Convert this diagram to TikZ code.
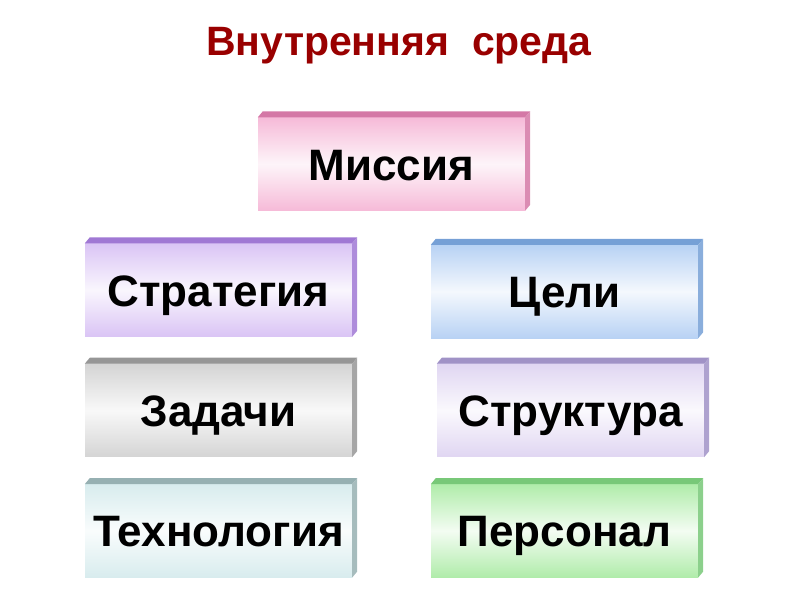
\documentclass[tikz,border=0pt]{standalone}
\usepackage{fontspec}
\setmainfont{Liberation Sans}
\usepackage{tikz}
\usetikzlibrary{positioning}
\definecolor{titleRed}{RGB}{153, 0, 0}
\definecolor{pinkFace}{RGB}{246, 186, 216}
\definecolor{pinkEdge}{RGB}{212, 120, 166}
\definecolor{lilacFace}{RGB}{218, 196, 245}
\definecolor{lilacEdge}{RGB}{160, 120, 212}
\definecolor{blueFace}{RGB}{184, 210, 244}
\definecolor{blueEdge}{RGB}{118, 160, 214}
\definecolor{grayFace}{RGB}{212, 212, 212}
\definecolor{grayEdge}{RGB}{150, 150, 150}
\definecolor{mauveFace}{RGB}{224, 214, 242}
\definecolor{mauveEdge}{RGB}{160, 146, 198}
\definecolor{tealFace}{RGB}{216, 236, 238}
\definecolor{tealEdge}{RGB}{150, 176, 178}
\definecolor{greenFace}{RGB}{176, 236, 170}
\definecolor{greenEdge}{RGB}{120, 200, 120}

% bevel: top and right faces of a box
\newcommand{\bevel}[2]{%
  \fill[#2] (#1.north west) -- ++(5,-6) -- ([shift={(5,-6)}]#1.north east) -- (#1.north east) -- cycle;
  \fill[#2!85] (#1.north east) -- ++(5,-6) -- ([shift={(5,-6)}]#1.south east) -- (#1.south east) -- cycle;
}

\begin{document}
\begin{tikzpicture}[
    x=1pt, y=-1pt,
    node distance=27pt and 0pt,
    box/.style={rectangle, minimum width=267pt, minimum height=93pt, inner sep=0pt,
      top color=#1, bottom color=#1, middle color=#1!15,
      font=\fontsize{44}{48}\selectfont\bfseries, text height=32pt, text depth=0pt},
    heading/.style={font=\fontsize{41}{44}\selectfont\bfseries, text=titleRed}
  ]
  \useasboundingbox (0,0) rectangle (800,600);

  \node[heading, anchor=base] (title) at (399,55) {Внутренняя\ \ среда};

  \node[box=pinkFace] (mis) at (391.5,164) {Миссия};
  \node[box=lilacFace] (strat) at (218.5,290) {Стратегия};
  \node[box=blueFace] (cel) at (564.5,291.5) {Цели};
  \node[box=grayFace, below=of strat] (zad) {Задачи};
  \node[box=mauveFace, below=of cel, xshift=6pt, yshift=1.5pt] (struk) {Структура};
  \node[box=tealFace, below=of zad] (tech) {Технология};
  \node[box=greenFace, below=of struk, xshift=-6pt] (pers) {Персонал};

  \bevel{mis}{pinkEdge}
  \bevel{strat}{lilacEdge}
  \bevel{cel}{blueEdge}
  \bevel{zad}{grayEdge}
  \bevel{struk}{mauveEdge}
  \bevel{tech}{tealEdge}
  \bevel{pers}{greenEdge}
\end{tikzpicture}
\end{document}
